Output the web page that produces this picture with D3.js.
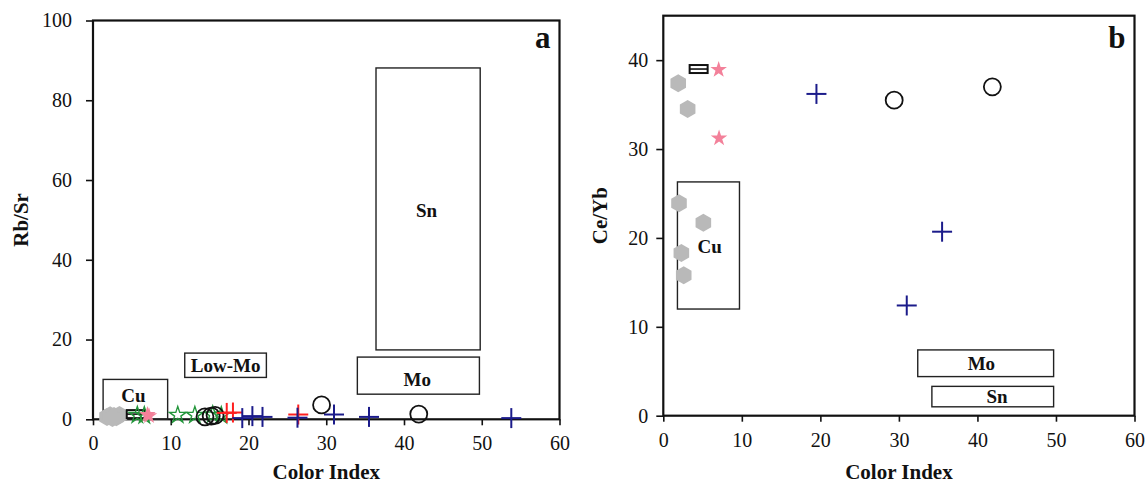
<!DOCTYPE html>
<html>
<head>
<meta charset="utf-8">
<script src="https://cdn.jsdelivr.net/npm/d3@7"></script>
<style>
  body { margin: 0; background: #fff; }
  svg { display: block; }
  .tick line { stroke: #111; stroke-width: 1.6; }
  .bold { font-family: "Liberation Serif", "Times New Roman", serif; font-weight: bold; fill: #111; }
</style>
</head>
<body>
<div id="chart"></div>
<script>
// ---- data ----
const xTicks = [0, 10, 20, 30, 40, 50, 60];
const yTicksA = [0, 20, 40, 60, 80, 100];
const yTicksB = [0, 10, 20, 30, 40];

// panel a : Rb/Sr vs Color Index
const hexA = [[1.8, 0.6], [2.2, 1.0], [2.7, 0.8], [3.0, 0.5], [3.4, 1.1], [2.5, 0.3]];
const barMarkA = [[5.5, 1.3]];
const pinkStarA = [[7.0, 0.9], [7.2, 0.6]];
const greenStarA = [[5.7, 0.8], [6.6, 0.7], [10.9, 0.8], [13.1, 0.8], [15.4, 0.9], [16.5, 0.7]];
const circleA = [[14.4, 0.6], [15.2, 0.8], [15.7, 1.0], [29.4, 3.6], [41.9, 1.3]];
const redCrossA = [[17.2, 1.6], [18.0, 1.7], [26.4, 1.2]];
const blueCrossA = [[19.2, 0.3], [20.5, 0.8], [21.8, 0.6], [26.3, 0.4], [31.0, 1.2], [35.5, 0.6], [53.8, 0.3]];
const fieldsA = [
  { name: 'Cu', x0: 1.3, x1: 9.6, y0: 0, y1: 10, lx: 5.2, ly: 6 },
  { name: 'Low-Mo', x0: 11.8, x1: 22.3, y0: 10.5, y1: 16.6, lx: 17.05, ly: 13.5 },
  { name: 'Sn', x0: 36.4, x1: 49.8, y0: 17.4, y1: 88.1, lx: 42.9, ly: 52.5 },
  { name: 'Mo', x0: 34.0, x1: 49.7, y0: 6.3, y1: 15.6, lx: 41.7, ly: 9.9 }
];

// panel b : Ce/Yb vs Color Index
const hexB = [[1.9, 37.4], [3.1, 34.5], [2.0, 23.9], [5.1, 21.7], [2.3, 18.3], [2.6, 15.8]];
const barMarkB = [[4.5, 39.0]];
const pinkStarB = [[7.05, 38.8], [7.1, 31.1]];
const circleB = [[29.4, 35.5], [41.9, 37.0]];
const blueCrossB = [[19.5, 36.2], [35.5, 20.7], [31.0, 12.4]];
const fieldsB = [
  { name: 'Cu', x0: 1.8, x1: 9.7, y0: 12.0, y1: 26.3, lx: 5.9, ly: 19.1 },
  { name: 'Mo', x0: 32.4, x1: 49.7, y0: 4.4, y1: 7.4, lx: 40.5, ly: 5.9 },
  { name: 'Sn', x0: 34.2, x1: 49.7, y0: 1.0, y1: 3.3, lx: 42.5, ly: 2.15 }
];

const colors = { gray: '#b9b9b9', pink: '#f3819a', green: '#23963b', red: '#ff1f1f', blue: '#1b1b8a' };

const svg = d3.select('#chart').append('svg')
  .attr('width', 1146)
  .attr('height', 490);

function hexPath(r) {
  const pts = d3.range(6).map(i => {
    const a = Math.PI / 6 + i * Math.PI / 3;
    return [r * Math.cos(a), r * Math.sin(a)];
  });
  return d3.line()(pts) + 'Z';
}

function styleTicks(a) {
  a.select('.domain').remove();
  a.selectAll('text')
    .style('font-family', '"Liberation Serif", "Times New Roman", serif')
    .style('font-size', '20px')
    .style('fill', '#111');
}

function drawPanel(opt) {
  const x = d3.scaleLinear().domain([0, 60]).range(opt.xRange);
  const y = d3.scaleLinear().domain(opt.yDomain).range(opt.yRange);
  const g = svg.append('g');

  // axes
  g.append('g')
    .attr('transform', `translate(0,${opt.yRange[0]})`)
    .call(d3.axisBottom(x).tickValues(xTicks).tickSizeInner(6).tickSizeOuter(0).tickPadding(11))
    .call(styleTicks);
  g.append('g')
    .attr('transform', `translate(${opt.xRange[0]},0)`)
    .call(d3.axisLeft(y).tickValues(opt.yTicks).tickSizeInner(7).tickSizeOuter(0).tickPadding(opt.yPad))
    .call(styleTicks);

  // frame
  g.append('rect')
    .attr('x', x(0)).attr('y', y(opt.yDomain[1]))
    .attr('width', x(60) - x(0)).attr('height', y(0) - y(opt.yDomain[1]))
    .attr('fill', 'none').attr('stroke', '#111').attr('stroke-width', 2.2);

  // fields
  g.selectAll('.field').data(opt.fields).enter().append('rect')
    .attr('class', 'field')
    .attr('x', d => x(d.x0)).attr('y', d => y(d.y1))
    .attr('width', d => x(d.x1) - x(d.x0)).attr('height', d => y(d.y0) - y(d.y1))
    .attr('fill', 'none').attr('stroke', '#222').attr('stroke-width', 1.4);
  g.selectAll('.flabel').data(opt.fields).enter().append('text')
    .attr('class', 'bold')
    .attr('x', d => x(d.lx)).attr('y', d => y(d.ly))
    .attr('dy', '0.35em')
    .attr('text-anchor', 'middle')
    .attr('font-size', 19)
    .text(d => d.name);

  // markers
  g.selectAll('.hex').data(opt.hex).enter().append('path')
    .attr('transform', d => `translate(${x(d[0])},${y(d[1])})`)
    .attr('d', hexPath(9))
    .attr('fill', colors.gray);

  g.selectAll('.bar').data(opt.barMark).enter().append('g')
    .attr('transform', d => `translate(${x(d[0])},${y(d[1])})`)
    .each(function () {
      const s = d3.select(this);
      s.append('rect').attr('x', -9).attr('y', -4).attr('width', 18).attr('height', 8)
        .attr('fill', '#fff').attr('stroke', '#111').attr('stroke-width', 2);
      s.append('line').attr('x1', -9).attr('x2', 9).attr('stroke', '#111').attr('stroke-width', 1.6);
    });

  const star = d3.symbol().type(d3.symbolStar).size(85);
  if (opt.greenStar) {
    g.selectAll('.gstar').data(opt.greenStar).enter().append('path')
      .attr('transform', d => `translate(${x(d[0])},${y(d[1]) - 1})`)
      .attr('d', star)
      .attr('fill', 'none').attr('stroke', colors.green).attr('stroke-width', 1.4);
  }
  g.selectAll('.pstar').data(opt.pinkStar).enter().append('path')
    .attr('transform', d => `translate(${x(d[0])},${y(d[1]) - 1})`)
    .attr('d', star)
    .attr('fill', colors.pink);

  g.selectAll('.circ').data(opt.circle).enter().append('circle')
    .attr('cx', d => x(d[0])).attr('cy', d => y(d[1]))
    .attr('r', 8.5)
    .attr('fill', 'none').attr('stroke', '#111').attr('stroke-width', 1.8);

  function crosses(data, color) {
    const c = g.selectAll(null).data(data).enter().append('g')
      .attr('transform', d => `translate(${x(d[0])},${y(d[1])})`);
    c.append('line').attr('x1', -10).attr('x2', 10).attr('stroke', color).attr('stroke-width', 2);
    c.append('line').attr('y1', -10).attr('y2', 10).attr('stroke', color).attr('stroke-width', 2);
  }
  if (opt.redCross) crosses(opt.redCross, colors.red);
  crosses(opt.blueCross, colors.blue);

  // titles
  g.append('text').attr('class', 'bold')
    .attr('x', (opt.xRange[0] + opt.xRange[1]) / 2).attr('y', 479)
    .attr('text-anchor', 'middle').attr('font-size', 21)
    .text('Color Index');
  const ym = (opt.yRange[0] + opt.yRange[1]) / 2;
  g.append('text').attr('class', 'bold')
    .attr('transform', `translate(${opt.yTitleX},${ym}) rotate(-90)`)
    .attr('text-anchor', 'middle').attr('font-size', 21)
    .text(opt.yTitle);
  g.append('text').attr('class', 'bold')
    .attr('x', opt.xRange[1] - 9).attr('y', 48)
    .attr('text-anchor', 'end').attr('font-size', 31)
    .text(opt.letter);
}

drawPanel({
  xRange: [93, 559.5], yRange: [419.3, 20.5], yDomain: [0, 100], yTicks: yTicksA, yPad: 14,
  fields: fieldsA, hex: hexA, barMark: barMarkA, pinkStar: pinkStarA, greenStar: greenStarA,
  circle: circleA, redCross: redCrossA, blueCross: blueCrossA,
  yTitle: 'Rb/Sr', yTitleX: 28, letter: 'a'
});

drawPanel({
  xRange: [663.3, 1134.5], yRange: [415.7, 15.7], yDomain: [0, 45], yTicks: yTicksB, yPad: 8,
  fields: fieldsB, hex: hexB, barMark: barMarkB, pinkStar: pinkStarB,
  circle: circleB, blueCross: blueCrossB,
  yTitle: 'Ce/Yb', yTitleX: 607, letter: 'b'
});
</script>
</body>
</html>
